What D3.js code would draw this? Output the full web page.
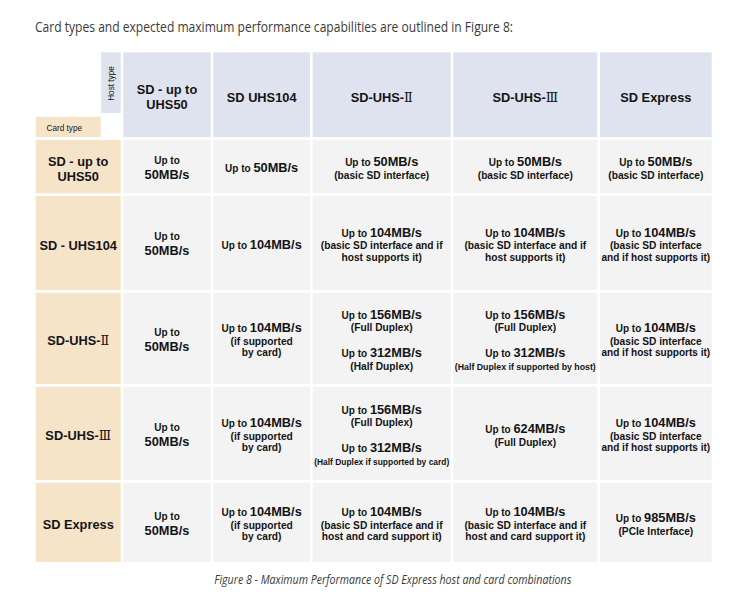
<!DOCTYPE html>
<html><head><meta charset="utf-8">
<script src="https://cdn.jsdelivr.net/npm/d3@7"></script>
<style>
html,body{margin:0;padding:0;background:#fff;}
svg{display:block;}
</style></head>
<body>
<svg id="chart" width="755" height="608"></svg>
<script>
// ---------- data ----------
const titleText = "Card types and expected maximum performance capabilities are outlined in Figure 8:";
const captionText = "Figure 8 - Maximum Performance of SD Express host and card combinations";
const hostAxisLabel = "Host type";
const cardAxisLabel = "Card type";
const hostTypes = ["SD - up to\nUHS50", "SD UHS104", "SD-UHS-Ⅱ", "SD-UHS-Ⅲ", "SD Express"];
const cardTypes = ["SD - up to\nUHS50", "SD - UHS104", "SD-UHS-Ⅱ", "SD-UHS-Ⅲ", "SD Express"];
const rowUHS50   = ["Up to\n50MB/s", "Up to 50MB/s", "Up to 50MB/s\n(basic SD interface)", "Up to 50MB/s\n(basic SD interface)", "Up to 50MB/s\n(basic SD interface)"];
const rowUHS104  = ["Up to\n50MB/s", "Up to 104MB/s", "Up to 104MB/s\n(basic SD interface and if\nhost supports it)", "Up to 104MB/s\n(basic SD interface and if\nhost supports it)", "Up to 104MB/s\n(basic SD interface\nand if host supports it)"];
const rowUHSII   = ["Up to\n50MB/s", "Up to 104MB/s\n(if supported\nby card)", "Up to 156MB/s\n(Full Duplex)\n\nUp to 312MB/s\n(Half Duplex)", "Up to 156MB/s\n(Full Duplex)\n\nUp to 312MB/s\n(Half Duplex if supported by host)", "Up to 104MB/s\n(basic SD interface\nand if host supports it)"];
const rowUHSIII  = ["Up to\n50MB/s", "Up to 104MB/s\n(if supported\nby card)", "Up to 156MB/s\n(Full Duplex)\n\nUp to 312MB/s\n(Half Duplex if supported by card)", "Up to 624MB/s\n(Full Duplex)", "Up to 104MB/s\n(basic SD interface\nand if host supports it)"];
const rowExpress = ["Up to\n50MB/s", "Up to 104MB/s\n(if supported\nby card)", "Up to 104MB/s\n(basic SD interface and if\nhost and card support it)", "Up to 104MB/s\n(basic SD interface and if\nhost and card support it)", "Up to 985MB/s\n(PCIe Interface)"];
const cellRows = [rowUHS50, rowUHS104, rowUHSII, rowUHSIII, rowExpress];

// ---------- layout (not data) ----------
const ROWHEAD = "__rowhead", COLHEAD = "__colhead";
const colEdges = [[35.7,120.7],[123.3,210.7],[213.3,310],[312.7,450.7],[453.3,597.3],[600,711.7]];
const rowEdges = [[52.3,137],[140,193.3],[196,290],[292.7,384],[386.7,480],[482.7,562]];
const x = d3.scaleOrdinal().domain([ROWHEAD, ...hostTypes]).range(colEdges);
const y = d3.scaleOrdinal().domain([COLHEAD, ...cardTypes]).range(rowEdges);
const colors = {host:"#dfe3ef", card:"#f6e4c9", body:"#f3f3f3", text:"#141414", title:"#3a3a3a"};
const FONT = "'Liberation Sans', Arial, Helvetica, sans-serif";
const SERIF = "'Liberation Serif', 'DejaVu Serif', serif";
const SZ = {head:12.8, value:12.8, small:10, note:10.2};

const svg = d3.select("#chart");

// title & caption
svg.append("text").attr("x",35).attr("y",31.5)
  .attr("font-family","'Open Sans', 'Noto Sans', sans-serif").attr("font-size",14)
  .attr("fill",colors.title).attr("textLength",478).attr("lengthAdjust","spacingAndGlyphs")
  .text(titleText);
svg.append("text").attr("x",214.3).attr("y",584)
  .attr("font-family","'Open Sans', 'Noto Sans', sans-serif").attr("font-size",12)
  .attr("font-style","italic").attr("fill",colors.title)
  .attr("textLength",357).attr("lengthAdjust","spacingAndGlyphs")
  .text(captionText);

// corner labels
svg.append("rect").attr("x",101).attr("y",52.3).attr("width",19.7).attr("height",60.7).attr("fill",colors.host);
svg.append("rect").attr("x",35.7).attr("y",116.7).attr("width",65).attr("height",20.3).attr("fill",colors.card);
svg.append("text").attr("transform","translate(113.8,83.5) rotate(-90)")
  .attr("text-anchor","middle").attr("font-family",FONT).attr("font-size",8.2).attr("fill",colors.text)
  .text(hostAxisLabel);
svg.append("text").attr("x",46.5).attr("y",130.5)
  .attr("font-family",FONT).attr("font-size",8.2).attr("fill",colors.text)
  .text(cardAxisLabel);

// parse a cell string into lines
function parseLines(str, isHeader){
  const out = [];
  let blank = false;
  str.split("\n").forEach(l => {
    if (l === "") { blank = true; return; }
    let kind, segs;
    if (isHeader) { kind = "head"; segs = [{t:l, s:SZ.head}]; }
    else if (l.startsWith("Up to ") && l.includes("MB/s")) {
      kind = "value"; segs = [{t:"Up to ", s:SZ.small}, {t:l.slice(6), s:SZ.value}];
    } else if (l.includes("MB/s")) { kind = "value"; segs = [{t:l, s:SZ.value}]; }
    else if (l === "Up to") { kind = "upto"; segs = [{t:l, s:SZ.small}]; }
    else { kind = "note"; segs = [{t:l, s:SZ.note}]; }
    out.push({kind, segs, blank});
    blank = false;
  });
  return out;
}
function gap(prev, cur){
  if (cur.blank) return 25.4;
  if (cur.kind === "note") return prev.kind === "value" ? 12.8 : 11.6;
  if (prev.kind === "upto") return 15;
  return 14.5;
}

function drawCell(colKey, rowKey, fill, str, isHeader){
  const [x0,x1] = x(colKey), [y0,y1] = y(rowKey);
  svg.append("rect").attr("x",x0).attr("y",y0).attr("width",x1-x0).attr("height",y1-y0).attr("fill",fill);
  const lines = parseLines(str, isHeader);
  const cx = (x0+x1)/2, cy = (y0+y1)/2;
  const g = svg.append("g");
  let b = 0;
  lines.forEach((ln,i) => {
    if (i>0) b += gap(lines[i-1], ln);
    ln.base = b;
    const t = g.append("text").attr("x",cx).attr("y",0).attr("text-anchor","middle")
      .attr("font-family",FONT).attr("font-weight","bold").attr("fill",colors.text);
    ln.segs.forEach(sg => {
      // split out roman numerals into serif face
      sg.t.split(/([ⅡⅢ])/).filter(p=>p!=="").forEach(p => {
        const ts = t.append("tspan").attr("font-size",sg.s).text(p);
        if (/[ⅡⅢ]/.test(p)) ts.attr("font-family",SERIF).attr("font-weight","normal");
      });
    });
    // shrink long notes to fit the cell
    const w = t.node().getComputedTextLength();
    const avail = (x1-x0) - 3;
    if (w > avail) {
      const k = avail / w;
      t.selectAll("tspan").attr("font-size", function(){ return +d3.select(this).attr("font-size")*k; });
    }
    ln.node = t;
    ln.maxSize = d3.max(ln.segs, s=>s.s);
  });
  const top = lines[0].base - 0.72*lines[0].maxSize;
  const bottom = lines[lines.length-1].base;
  const off = cy - (top+bottom)/2 + (isHeader ? 2.3 : 1.2);
  lines.forEach(ln => ln.node.attr("y", ln.base + off));
}

// column headers
hostTypes.forEach(h => drawCell(h, COLHEAD, colors.host, h, true));
// row headers
cardTypes.forEach(c => drawCell(ROWHEAD, c, colors.card, c, true));
// body
cardTypes.forEach((c,ri) => hostTypes.forEach((h,ci) => drawCell(h, c, colors.body, cellRows[ri][ci], false)));
</script>
</body></html>
